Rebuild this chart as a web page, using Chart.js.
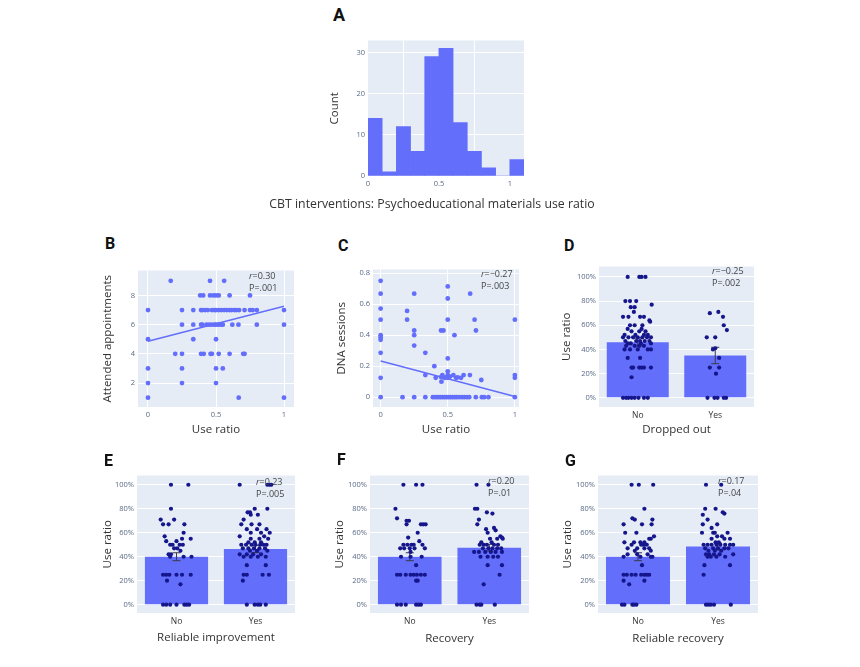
<!DOCTYPE html>
<html><head><meta charset="utf-8">
<script src="https://cdn.jsdelivr.net/npm/chart.js@4.4.1/dist/chart.umd.min.js"></script>
<style>
body{margin:0;background:#fff;}
#wrap{position:relative;width:860px;height:667px;overflow:hidden;background:#fff;}
canvas{position:absolute;}
.lbl{position:absolute;font-family:Roboto,'Liberation Sans',sans-serif;font-weight:700;color:#111;line-height:1;font-size:16px;}
.ann{position:absolute;font-family:'Open Sans',sans-serif;font-size:9px;color:#444;line-height:12px;white-space:nowrap;}
.xt{position:absolute;font-family:'Open Sans',sans-serif;font-size:12.3px;color:#333;line-height:14px;text-align:center;white-space:nowrap;}
</style></head>
<body><div id="wrap">
<canvas id="cA"></canvas><canvas id="cB"></canvas><canvas id="cC"></canvas><canvas id="cD"></canvas>
<canvas id="cE"></canvas><canvas id="cF"></canvas><canvas id="cG"></canvas>
<div class="lbl" style="left:333px;top:6px;font-size:18px;">A</div>
<div class="lbl" style="left:105px;top:236px;">B</div>
<div class="lbl" style="left:338px;top:238px;">C</div>
<div class="lbl" style="left:564px;top:238px;">D</div>
<div class="lbl" style="left:104px;top:453px;">E</div>
<div class="lbl" style="left:337px;top:452px;">F</div>
<div class="lbl" style="left:565px;top:453px;">G</div>
<div class="xt" style="left:232px;width:400px;top:197px;">CBT interventions: Psychoeducational materials use ratio</div>
<div class="ann" style="left:249px;top:270px;"><i>r</i>=0.30<br>P=.001</div>
<div class="ann" style="left:481px;top:268px;"><i>r</i>=−0.27<br>P=.003</div>
<div class="ann" style="left:712px;top:265px;"><i>r</i>=−0.25<br>P=.002</div>
<div class="ann" style="left:256px;top:476px;"><i>r</i>=0.23<br>P=.005</div>
<div class="ann" style="left:488px;top:475px;"><i>r</i>=0.20<br>P=.01</div>
<div class="ann" style="left:718px;top:475px;"><i>r</i>=0.17<br>P=.04</div>
</div>
<script>
// ---------- DATA ----------
const histCenters = [0.05,0.15,0.25,0.35,0.45,0.55,0.65,0.75,0.85,0.95,1.05];
const histCounts  = [14,1,12,6,29,31,13,6,2,0,4];
const histYTicks = [0,10,20,30];
const ratioTicks = [0,0.5,1];

const bUseRatio = [0.167,0.456,0.56, 0.384,0.406,0.456,0.48,0.5,0.52,0.6,0.75,
 0,0.25,0.333,0.39,0.40,0.42,0.44,0.47,0.49,0.5,0.52,0.54,0.56,0.58,0.6,0.615,0.635,0.65,0.67,0.71,0.75,0.77,0.8,1,
 0.25,0.333,0.39,0.40,0.43,0.45,0.47,0.49,0.5,0.52,0.54,0.55,0.62,0.665,0.8,1,
 0,0.333,0.5, 0.2,0.25,0.39,0.41,0.46,0.47,0.52,0.6,0.7,0.71, 0,0.25,0.5,0.55, 0,0.25,0.5, 0,0.667,1];
const bAppointments = [9,9,9, 8,8,8,8,8,8,8,8,
 7,7,7,7,7,7,7,7,7,7,7,7,7,7,7,7,7,7,7,7,7,7,7,7,
 6,6,6,6,6,6,6,6,6,6,6,6,6,6,6,6,
 5,5,5, 4,4,4,4,4,4,4,4,4,4, 3,3,3,3, 2,2,2, 1,1,1];
const bFitX = [0,1], bFitY = [4.87,7.26];
const bYTicks = [2,4,6,8];

const cUseRatio = [0,0,0,0,0,0,0,0,0,0, 0.163,0.197,0.197, 0.25,0.25,0.25,0.25,0.25, 0.333,0.333,0.333,
 0.4,0.41,0.45,0.468, 0.5,0.5,0.5,0.5,0.5,0.5, 0.55,0.667,0.7,0.71,0.75, 1,1,1,1,
 0.45,0.46,0.475,0.487,0.5,0.517,0.542,0.562,0.574,0.599,0.618,0.665,0.453,
 0.389,0.404,0.419,0.433,0.448,0.463,0.478,0.493,0.507,0.522,0.537,0.552,0.567,0.586,0.606,0.623,0.643,0.66,0.709,0.754,0.771,0.803];
const cDNA = [0.75,0.667,0.571,0.5,0.4,0.385,0.37,0.286,0.125,0, 0,0.556,0.5, 0.667,0.43,0.4,0.333,0, 0.286,0.143,0,
 0.2,0.125,0.43,0.43, 0.714,0.636,0.5,0.25,0.167,0.143, 0.4,0.667,0.5,0.43,0.111, 0.5,0.143,0.125,0,
 0.13,0.143,0.125,0.128,0.125,0.133,0.143,0.125,0.128,0.125,0.143,0.143,0.1,
 0,0,0,0,0,0,0,0,0,0,0,0,0,0,0,0,0,0,0,0,0,0];
const cFitX = [0,1], cFitY = [0.234,0.005];
const cYTicks = [0,0.2,0.4,0.6,0.8];

const groups = ['No','Yes'];
const pctTicks = [0,20,40,60,80,100];

const dMeans = [46,35], dErr = [3.3,6.8];
const dNoVal = [100,100,100,100,80,80,80,77,75,75,71,67,67,67,67,64,63,60,60,60,57,57,55,55,55,52,52,52,52,50,50,50,50,50,50,50,47,47,47,47,47,45,45,45,45,43,43,43,43,40,40,40,40,40,33,33,25,25,25,25,25,25,17,0,0,0,0,0,0,0,0];
const dNoJit = [-0.13,0.02,0.05,0.10,-0.16,-0.10,-0.02,0.18,-0.09,-0.04,-0.05,-0.19,-0.12,0.03,0.08,0.15,0.16,-0.10,-0.04,0.06,-0.13,0.05,-0.08,0.02,0.10,-0.17,-0.03,0.08,0.13,-0.19,-0.12,-0.06,0,0.06,0.12,0.17,-0.16,-0.02,0.03,0.09,0.15,-0.13,-0.09,0.04,0.17,-0.15,-0.04,0.02,0.08,-0.17,-0.10,0,0.13,0.17,-0.13,0.03,-0.08,-0.06,0.02,0.05,0.08,0.17,-0.08,-0.19,-0.15,-0.12,-0.08,-0.04,0.01,0.08,0.13];
const dYesVal = [71,70,67,60,56,50,50,40,41,33,25,25,20,0,0,0,0,0];
const dYesJit = [0.04,-0.07,0.10,0.11,0.15,-0.11,0,-0.03,0.0,0.05,-0.07,0.05,0.01,-0.10,-0.01,0.03,0.11,0.14];

const eMeans = [40,46.5], eErr = [3.3,3];
const eNoVal = [100,100,80,71,71,67,67,67,60,57,55,55,53,53,50,50,50,50,47,47,45,42,42,40,40,40,25,25,25,25,25,25,20,17,0,0,0,0,0,0,0];
const eNoJit = [-0.07,0.15,-0.07,-0.20,-0.03,-0.17,-0.10,0.10,0.09,-0.15,0.07,0.18,-0.13,0,-0.08,-0.05,0.04,0.08,-0.03,0.01,0.05,-0.10,-0.07,-0.08,0.09,0.19,-0.17,-0.13,-0.09,0,0.07,0.18,-0.12,0.05,-0.17,-0.13,-0.08,0,0.10,0.13,0.16];
const eYesVal = [100,100,100,100,80,80,77,77,75,75,71,67,67,67,63,63,63,60,60,60,57,57,55,55,55,52,52,52,50,50,50,50,50,50,50,47,47,47,47,47,45,45,45,42,42,42,42,40,40,40,40,33,33,25,25,25,25,20,0,0,0,0,0];
const eYesJit = [-0.20,0.15,0.18,0.20,-0.01,0.15,-0.10,-0.07,-0.06,0.03,-0.15,-0.18,-0.05,0.05,-0.11,0.02,0.14,-0.06,0.07,0.18,-0.20,0.11,-0.06,0.05,0.16,-0.09,-0.01,0.07,-0.18,-0.12,-0.05,0,0.06,0.10,0.14,-0.16,-0.09,-0.02,0.05,0.12,-0.07,0.02,0.15,-0.20,-0.11,-0.03,0.07,-0.15,-0.06,0.03,0.13,-0.11,0.13,-0.15,-0.11,0.09,0.17,-0.16,-0.11,-0.01,0.03,0.06,0.13];

const fMeans = [40,47.5], fErr = [3.3,2.8];
const fNoVal = [100,100,100,80,72,70,70,67,67,67,67,60,56,53,50,50,50,50,50,47,47,47,47,47,44,40,40,40,33,25,25,25,25,25,25,25,25,20,20,0,0,0,0,0,0];
const fNoJit = [-0.08,0.08,0.16,-0.18,-0.16,-0.04,-0.01,-0.04,0.14,0.17,0.20,0.10,-0.02,0.12,-0.08,-0.03,0.02,0.05,0.16,-0.12,-0.07,0,0.06,0.19,0.01,-0.11,0.01,0.15,0.08,-0.16,-0.12,-0.05,0.01,0.05,0.09,0.14,0.19,0.08,0.10,-0.16,-0.11,-0.05,0.08,0.11,0.14];
const fYesVal = [100,100,80,80,77,76,71,67,64,63,62,60,57,56,55,55,55,52,52,50,50,50,50,50,47,47,47,47,47,44,44,44,44,44,44,40,40,40,40,33,33,25,17,0,0,0,0];
const fYesJit = [-0.16,-0.01,-0.18,-0.15,-0.03,0.04,-0.13,-0.15,0.06,-0.04,0.08,-0.02,0.14,0.16,0.01,0.10,0.17,-0.10,0.03,-0.12,-0.07,-0.03,0.06,0.11,-0.08,-0.01,0.04,0.10,0.15,-0.19,-0.13,-0.05,0.02,0.08,0.16,-0.11,-0.02,0.05,0.11,-0.02,0.16,0.13,-0.07,-0.16,-0.12,-0.10,0.07];

const gMeans = [40,48.5], gErr = [3.3,2.8];
const gNoVal = [100,100,100,80,72,71,71,67,67,67,60,60,57,55,55,52,52,52,52,50,50,50,50,47,47,47,47,45,45,42,42,42,40,40,40,40,33,25,25,25,25,25,25,25,25,20,20,17,0,0,0,0,0];
const gNoJit = [-0.08,0.01,0.19,0.08,-0.07,-0.04,0.18,-0.18,0.05,0.17,-0.16,-0.02,0.20,0.14,0.16,-0.17,-0.05,0.03,0.08,-0.08,0.04,0.07,0.11,-0.13,-0.01,0.08,0.14,-0.04,0.16,-0.13,-0.01,0.12,-0.18,0.03,0.16,0.18,0.05,-0.18,-0.14,-0.08,-0.03,0.04,0.08,0.11,0.14,-0.18,0.08,-0.11,-0.20,-0.17,-0.07,-0.05,-0.02];
const gYesVal = [100,100,80,80,77,76,75,71,67,67,64,60,60,60,60,57,57,55,55,55,52,52,50,50,50,50,50,50,50,50,47,47,47,47,47,45,45,45,42,42,42,42,42,40,40,40,40,33,33,25,0,0,0,0,0];
const gYesJit = [-0.15,0.04,-0.16,-0.03,0.06,0.08,-0.19,-0.13,-0.19,-0.01,-0.08,-0.20,-0.06,-0.04,0.12,-0.01,0.05,-0.08,0.08,0.15,-0.03,0.01,-0.18,-0.13,-0.08,-0.02,0.03,0.09,0.15,0.19,-0.16,-0.06,0,0.08,0.13,-0.12,-0.04,0.04,-0.15,-0.11,-0.05,0.02,0.19,-0.13,-0.09,-0.02,0.09,-0.17,0.15,-0.18,-0.15,-0.12,-0.09,-0.05,0.16];

// ---------- STYLE / HELPERS ----------
const FAM = "'Open Sans', sans-serif";
const tickFont = {family:FAM, size:7.5};
const catFont = {family:FAM, size:8.5};
const titleFont = {family:FAM, size:11.5};
const tickColor = '#5a6a86';
const titleColor = '#333';
const barColor = '#636EFA';
const dotColor = '#16168c';

const bgPlugin = {
  id:'plotbg',
  beforeDraw(chart){
    const {ctx, chartArea:a} = chart;
    ctx.save(); ctx.fillStyle = '#E5ECF6';
    ctx.fillRect(a.left, a.top, a.right - a.left, a.bottom - a.top);
    ctx.restore();
  }
};
const errPlugin = {
  id:'errbars',
  afterDatasetDraw(chart, args, opts){
    if (args.index !== 0 || !opts || !opts.err) return;
    const y = chart.scales.y, ctx = chart.ctx;
    ctx.save(); ctx.strokeStyle = '#3a3a48'; ctx.lineWidth = 1;
    args.meta.data.forEach((bar, i) => {
      const yt = y.getPixelForValue(opts.means[i] + opts.err[i]);
      const yb = y.getPixelForValue(opts.means[i] - opts.err[i]);
      const x = bar.x;
      ctx.beginPath();
      ctx.moveTo(x, yt); ctx.lineTo(x, yb);
      ctx.moveTo(x - 4, yt); ctx.lineTo(x + 4, yt);
      ctx.moveTo(x - 4, yb); ctx.lineTo(x + 4, yb);
      ctx.stroke();
    });
    ctx.restore();
  }
};

function place(id, L, T, W, H){
  const c = document.getElementById(id);
  c.width = W; c.height = H;
  c.style.left = L + 'px'; c.style.top = T + 'px';
  c.style.width = W + 'px'; c.style.height = H + 'px';
  return c;
}
function linY(min, max, ticks, title, wy, fmt){
  return {
    type:'linear', position:'left', min, max,
    afterBuildTicks: s => { s.ticks = ticks.map(v => ({value:v})); },
    afterFit: s => { s.width = wy; },
    grid:{color:'#ffffff', lineWidth:1, drawTicks:false},
    border:{display:false},
    ticks:{font:tickFont, color:tickColor, padding:3, callback: fmt || (v => String(v))},
    title:{display: !!title, text:title, font:titleFont, color:titleColor, padding:0}
  };
}
function linX(min, max, ticks, title, hx, opts){
  opts = opts || {};
  return {
    type:'linear', position:'bottom', min, max, offset:false,
    afterBuildTicks: s => { s.ticks = ticks.map(v => ({value:v})); },
    afterFit: s => { s.height = hx; },
    grid:{display: opts.grid !== false, color:'#ffffff', lineWidth:1, drawTicks:false},
    border:{display:false},
    ticks:{font:opts.font || tickFont, color:opts.color || tickColor, padding:3, maxRotation:0, callback: opts.fmt || (v => String(v))},
    title:{display: !!title, text:title, font:titleFont, color:titleColor, padding:0}
  };
}
function baseOpts(scales, extraPlugins){
  return {
    responsive:false, animation:false, devicePixelRatio:1, events:[],
    layout:{padding:0, autoPadding:false},
    plugins:Object.assign({legend:{display:false}, tooltip:{enabled:false}}, extraPlugins || {}),
    scales
  };
}

// ---------- A: histogram ----------
new Chart(place('cA', 328, 33, 196, 163), {
  type:'bar',
  data:{datasets:[{data: histCenters.map((c,i)=>({x:c, y:histCounts[i]})), backgroundColor:barColor,
    barPercentage:1, categoryPercentage:1, borderWidth:0}]},
  options: baseOpts({x: linX(0, 1.1, ratioTicks, '', 20), y: linY(0, 32.9, histYTicks, 'Count', 40)}),
  plugins:[bgPlugin]
});

// ---------- B, C: scatter ----------
function scatterPanel(id, rect, xs, ys, fx, fy, xr, yr, yTicks, yTitle, wy, hx){
  new Chart(place(id, ...rect), {
    type:'scatter',
    data:{datasets:[
      {type:'line', data: fx.map((x,i)=>({x, y:fy[i]})), borderColor:barColor, borderWidth:1.5, pointRadius:0, fill:false},
      {type:'scatter', data: xs.map((x,i)=>({x, y:ys[i]})), backgroundColor:barColor, borderWidth:0, pointRadius:2.4}
    ]},
    options: baseOpts({x: linX(xr[0], xr[1], ratioTicks, 'Use ratio', hx), y: linY(yr[0], yr[1], yTicks, yTitle, wy)}),
    plugins:[bgPlugin]
  });
}
scatterPanel('cB', [101,263,193,174], bUseRatio, bAppointments, bFitX, bFitY, [-0.0735,1.0735], [0.36,9.71], bYTicks, 'Attended appointments', 37, 30);
scatterPanel('cC', [335,262,185,175], cUseRatio, cDNA, cFitX, cFitY, [-0.057,1.03], [-0.063,0.823], cYTicks, 'DNA sessions', 38, 30);

// ---------- D-G: bars with strip points ----------
function stripPanel(id, rect, means, err, noV, noJ, yesV, yesJ, xTitle, wy, hx, yr){
  const pts = noV.map((v,i)=>({x:0+noJ[i], y:v})).concat(yesV.map((v,i)=>({x:1+yesJ[i], y:v})));
  new Chart(place(id, ...rect), {
    type:'bar',
    data:{datasets:[
      {type:'bar', data:means.map((m,i)=>({x:i, y:m})), backgroundColor:barColor, barPercentage:1, categoryPercentage:0.8, grouped:false, borderWidth:0, order:2},
      {type:'scatter', data:pts, backgroundColor:dotColor, borderWidth:0, pointRadius:2.1, order:1}
    ]},
    options: baseOpts({
      x: linX(-0.5, 1.5, [0,1], xTitle, hx, {grid:false, font:catFont, color:'#333', fmt: v => groups[v]}),
      y: linY(yr[0], yr[1], pctTicks, 'Use ratio', wy, v => v + '%')
    }, {errbars:{err, means}}),
    plugins:[bgPlugin, errPlugin]
  });
}
stripPanel('cD', [560,259,194,178], dMeans, dErr, dNoVal, dNoJit, dYesVal, dYesJit, 'Dropped out', 39, 30, [-7.6,108.6]);
stripPanel('cE', [101,468,194,177], eMeans, eErr, eNoVal, eNoJit, eYesVal, eYesJit, 'Reliable improvement', 36, 32, [-6.9,107.7]);
stripPanel('cF', [333,468,196,178], fMeans, fErr, fNoVal, fNoJit, fYesVal, fYesJit, 'Recovery', 37, 33, [-6.9,107.7]);
stripPanel('cG', [561,468,197,178], gMeans, gErr, gNoVal, gNoJit, gYesVal, gYesJit, 'Reliable recovery', 37, 33, [-6.9,107.7]);
</script>
</body></html>
